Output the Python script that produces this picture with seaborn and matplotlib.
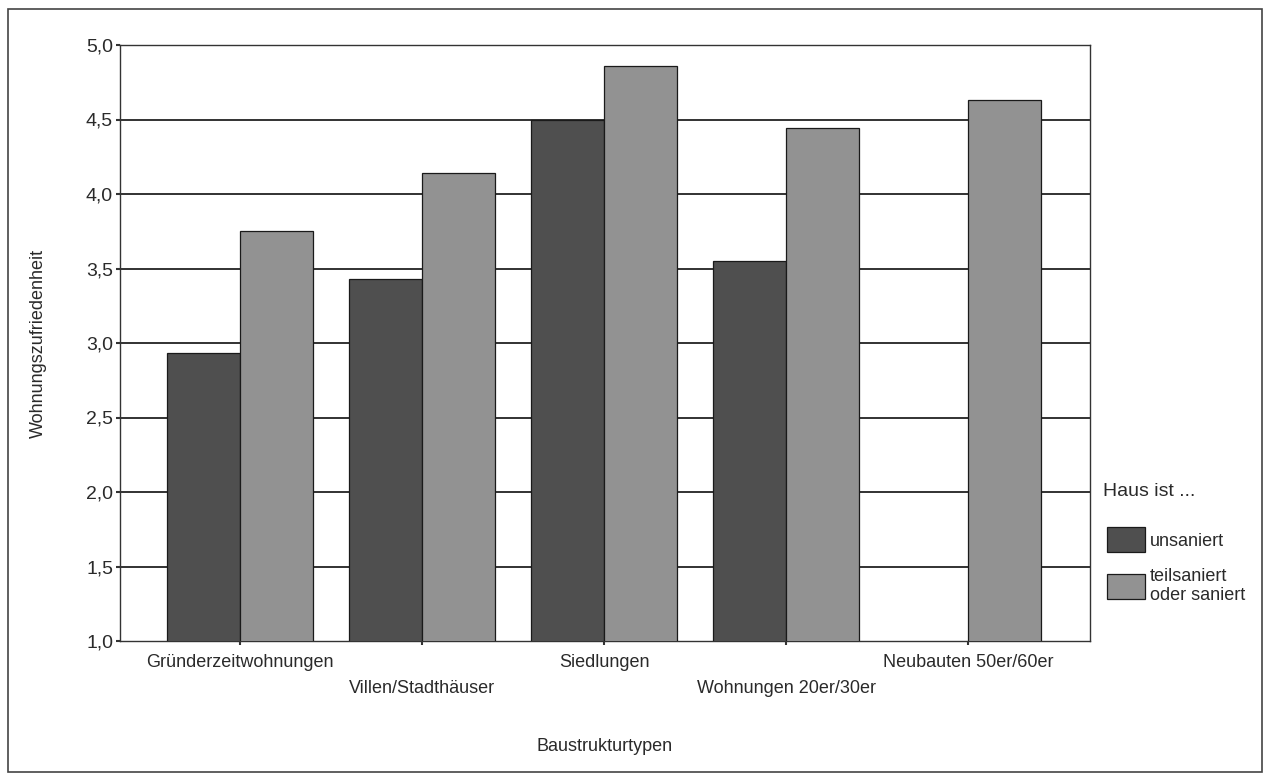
import matplotlib
matplotlib.use("Agg")
import matplotlib.pyplot as plt
from matplotlib.patches import Rectangle, Patch
from matplotlib.ticker import FuncFormatter
import numpy as np
import pandas as pd
import seaborn as sns

# Mean housing satisfaction by building type and renovation status
categories = [
    "Gründerzeitwohnungen",
    "Villen/Stadthäuser",
    "Siedlungen",
    "Wohnungen 20er/30er",
    "Neubauten 50er/60er",
]
unsaniert = [2.93, 3.43, 4.50, 3.55, np.nan]
saniert = [3.75, 4.14, 4.86, 4.44, 4.63]
series_names = ["unsaniert", "teilsaniert\noder saniert"]
legend_title = "Haus ist ..."
y_ticks = [1.0, 1.5, 2.0, 2.5, 3.0, 3.5, 4.0, 4.5, 5.0]

df = pd.DataFrame({
    "Baustrukturtypen": categories * 2,
    "Wert": unsaniert + saniert,
    "Haus": [series_names[0]] * len(categories) + [series_names[1]] * len(categories),
})

sns.set_theme(style="white")
plt.rcParams["font.family"] = ["Liberation Sans", "DejaVu Sans"]

fig = plt.figure(figsize=(12.65, 7.75), dpi=100)
ax = fig.add_axes([120 / 1265, 1 - 641 / 775, 970 / 1265, 596 / 775])

colors = ["#4f4f4f", "#929292"]
sns.barplot(
    data=df, x="Baustrukturtypen", y="Wert", hue="Haus",
    hue_order=series_names, order=categories,
    palette=colors, width=0.8, edgecolor="#1a1a1a", linewidth=0.9,
    errorbar=None, legend=False, ax=ax, zorder=3,
)

ax.set_ylim(1.0, 5.0)
ax.set_xlim(-0.66, 4.67)
ax.set_yticks(y_ticks)
ax.yaxis.set_major_formatter(FuncFormatter(lambda v, p: f"{v:.1f}".replace(".", ",")))
for v in y_ticks[1:]:
    ax.axhline(v, color="#222222", linewidth=1.3, zorder=1)

for s in ax.spines.values():
    s.set_color("#333333")
    s.set_linewidth(1.0)

txt_color = "#2a2a2a"
ax.tick_params(axis="y", direction="out", length=3, width=1.5, color="#333333",
               labelsize=14, pad=2, labelcolor=txt_color, left=True)
ax.tick_params(axis="x", direction="out", length=3, width=1.5, color="#333333",
               labelsize=13, labelcolor=txt_color, bottom=True)
ax.set_xticks(range(len(categories)))
ax.set_xticklabels(categories)
for i, lab in enumerate(ax.get_xticklabels()):
    lab.set_y(-0.006 if i % 2 == 0 else -0.05)

ax.set_xlabel("Baustrukturtypen", fontsize=13, color=txt_color, labelpad=30)
ax.set_ylabel("Wohnungszufriedenheit", fontsize=13, color=txt_color, labelpad=28)

# legend: title set a little apart from the swatches
fig.text(1103 / 1265, 1 - 491 / 775, legend_title, fontsize=14,
         color=txt_color, ha="left", va="center")
handles = [Patch(facecolor=c, edgecolor="#1a1a1a", linewidth=0.9) for c in colors]
leg = fig.legend(
    handles, series_names, frameon=False,
    loc="upper left", bbox_to_anchor=(1091 / 1265, 1 - 511 / 775),
    fontsize=13, handlelength=2.1, handleheight=1.75,
    handletextpad=0.25, labelspacing=0.85,
)
for t in leg.get_texts():
    t.set_color(txt_color)

# outer frame around the whole chart
fig.patches.append(Rectangle((8 / 1265, 1 - 772 / 775), 1254 / 1265, 763 / 775,
                             transform=fig.transFigure, fill=False,
                             edgecolor="#444444", linewidth=1.2))

fig.savefig("out.png", dpi=100, facecolor="white")
